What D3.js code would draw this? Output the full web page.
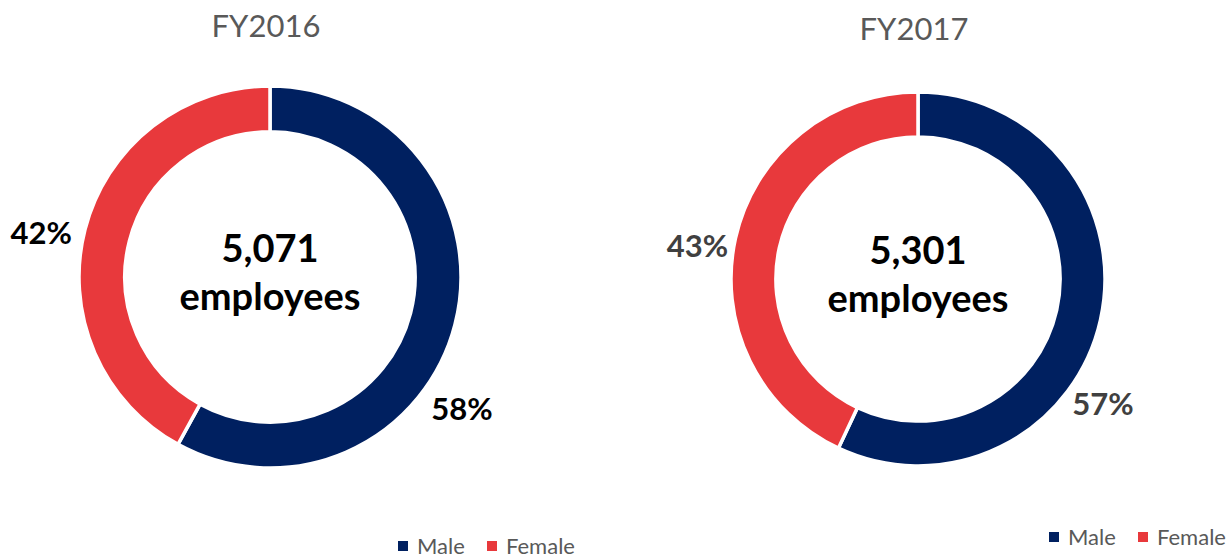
<!DOCTYPE html>
<html>
<head>
<meta charset="utf-8">
<script src="https://cdn.jsdelivr.net/npm/d3@7"></script>
<style>
  body { margin: 0; background: #fff; }
  svg text { font-family: Lato, "Open Sans", sans-serif; }
</style>
</head>
<body>
<script>
// Data
var years = ["FY2016", "FY2017"];
var totals = [5071, 5301];
var categories = ["Male", "Female"];
var malePct = [58, 57];
var femalePct = [42, 43];

var width = 1231,
    height = 558;

var colors = ["#002060", "#e8393c"];

// layout for each doughnut
var layout = [
  { cx: 270, cy: 277, r: 191, titleY: 37, labelColor: "#000", labelAng: [124.5, 281], labelR: 233, legendX: 398, legendY: 546 },
  { cx: 918, cy: 279, r: 187, titleY: 40, labelColor: "#404040", labelAng: [124, 278.5], labelR: 223, legendX: 1049, legendY: 537 }
];

var svg = d3.select("body")
    .append("svg")
    .attr("width", width)
    .attr("height", height);

var pie = d3.pie().sort(null).value(function(d) { return d; });
var fmt = d3.format(",");

years.forEach(function(year, i) {
  var L = layout[i];
  var g = svg.append("g").attr("transform", "translate(" + L.cx + "," + L.cy + ")");

  var arc = d3.arc()
      .innerRadius(L.r * 0.76)
      .outerRadius(L.r);

  var values = [malePct[i], femalePct[i]];

  g.selectAll("path")
      .data(pie(values))
      .enter().append("path")
      .attr("d", arc)
      .attr("fill", function(d, j) { return colors[j]; })
      .attr("stroke", "#fff")
      .attr("stroke-width", 3.5);

  // title
  svg.append("text")
      .attr("x", L.cx - 4)
      .attr("y", L.titleY)
      .attr("text-anchor", "middle")
      .attr("font-size", "31px")
      .attr("fill", "#595959")
      .text(year);

  // center text
  g.append("text")
      .attr("y", -15)
      .attr("text-anchor", "middle")
      .attr("font-size", "38px")
      .attr("font-weight", "bold")
      .attr("fill", "#000")
      .text(fmt(totals[i]));
  g.append("text")
      .attr("y", 33)
      .attr("text-anchor", "middle")
      .attr("font-size", "38px")
      .attr("font-weight", "bold")
      .attr("fill", "#000")
      .text("employees");

  // percentage labels
  values.forEach(function(v, j) {
    var a = L.labelAng[j] * Math.PI / 180;
    g.append("text")
        .attr("x", L.labelR * Math.sin(a))
        .attr("y", -L.labelR * Math.cos(a))
        .attr("dy", "0.36em")
        .attr("text-anchor", "middle")
        .attr("font-size", "31px")
        .attr("font-weight", "bold")
        .attr("fill", L.labelColor)
        .text(v + "%");
  });

  // legend
  var leg = svg.append("g").attr("transform", "translate(" + L.legendX + "," + L.legendY + ")");
  var offsets = [0, 89];
  categories.forEach(function(c, j) {
    leg.append("rect")
        .attr("x", offsets[j])
        .attr("y", -5)
        .attr("width", 10)
        .attr("height", 10)
        .attr("fill", colors[j]);
    leg.append("text")
        .attr("x", offsets[j] + 19)
        .attr("y", 0)
        .attr("dy", "0.36em")
        .attr("font-size", "22px")
        .attr("fill", "#595959")
        .text(c);
  });
});
</script>
</body>
</html>
